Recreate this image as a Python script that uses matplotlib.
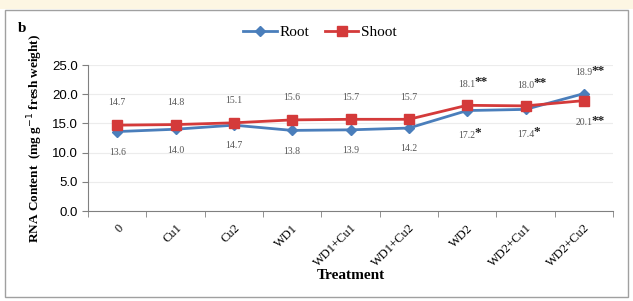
import matplotlib
matplotlib.use("Agg")
import matplotlib.pyplot as plt
import numpy as np
from matplotlib.patches import Rectangle

categories = ["0", "Cu1", "Cu2", "WD1", "WD1+Cu1", "WD1+Cu2", "WD2", "WD2+Cu1", "WD2+Cu2"]
root = [13.6, 14.0, 14.7, 13.8, 13.9, 14.2, 17.2, 17.4, 20.1]
shoot = [14.7, 14.8, 15.1, 15.6, 15.7, 15.7, 18.1, 18.0, 18.9]
root_sig = ["", "", "", "", "", "", "*", "*", "**"]
shoot_sig = ["", "", "", "", "", "", "**", "**", "**"]
yticks = [0, 5, 10, 15, 20, 25]

serif = ["Liberation Serif", "DejaVu Serif"]
plt.rcParams["font.family"] = serif

fig = plt.figure(figsize=(6.33, 3.01), dpi=100)
fig.patch.set_facecolor("white")
# top yellowish band and frame
fig.add_artist(Rectangle((0, 1 - 9 / 301), 1, 9 / 301, transform=fig.transFigure,
                         facecolor="#fdf6e3", edgecolor="none", zorder=0))
fig.add_artist(Rectangle((5 / 633, 4 / 301), 623 / 633, 287 / 301, transform=fig.transFigure,
                         facecolor="none", edgecolor="#a0a0a0", lw=1.0, zorder=1))

ax = fig.add_axes([88 / 633, 1 - 211 / 301, 525 / 633, 146 / 301])
x = np.arange(len(categories))
ax.plot(x, root, color="#4a7ebb", lw=2, marker="D", ms=5.5, label="Root", zorder=3)
ax.plot(x, shoot, color="#d43a3a", lw=2, marker="s", ms=7.5, label="Shoot", zorder=3)

ax.set_xlim(-0.5, len(categories) - 0.5)
ax.set_ylim(0, 25)
ax.set_yticks(yticks)
ax.set_yticklabels([f"{v:.1f}" for v in yticks], fontsize=9.5,
                   family=["Liberation Sans", "DejaVu Sans"])
ax.set_xticks(x)
ax.set_xticklabels(categories, rotation=45, ha="right", rotation_mode="anchor", fontsize=9)
ax.tick_params(axis="x", length=0, pad=8)
ax.set_xticks(np.arange(-0.5, len(categories)), minor=True)
ax.tick_params(axis="x", which="minor", length=4, direction="out", color="#808080")
ax.tick_params(axis="y", length=4, color="#808080")
ax.grid(axis="y", color="#ececec", lw=0.8)
ax.set_axisbelow(True)
for s in ["top", "right"]:
    ax.spines[s].set_visible(False)
for s in ["left", "bottom"]:
    ax.spines[s].set_color("#808080")

ax.set_xlabel("Treatment", fontsize=11, fontweight="bold", labelpad=0)
ax.set_ylabel("RNA Content  (mg g$^{-1}$ fresh weight)", fontsize=9.5, fontweight="bold", labelpad=5)

lab_color = "#555555"
star_color = "#222222"
shoot_off = [16, 16, 16, 16, 16, 16, 15, 15, 20]
root_off = [-15, -15, -15, -15, -15, -15, -18, -18, -21]
for i in range(len(categories)):
    up = shoot_off[i]
    ax.annotate(f"{shoot[i]:.1f}", (x[i], shoot[i]), xytext=(0, up), textcoords="offset points",
                ha="center", va="center", fontsize=7, color=lab_color)
    if shoot_sig[i]:
        ax.annotate(shoot_sig[i], (x[i], shoot[i]), xytext=(5.5, up + 1.5), textcoords="offset points",
                    ha="left", va="center", fontsize=9.5, fontweight="bold", color=star_color)
    dn = root_off[i]
    ax.annotate(f"{root[i]:.1f}", (x[i], root[i]), xytext=(0, dn), textcoords="offset points",
                ha="center", va="center", fontsize=7, color=lab_color)
    if root_sig[i]:
        ax.annotate(root_sig[i], (x[i], root[i]), xytext=(5.5, dn + 1.5), textcoords="offset points",
                    ha="left", va="center", fontsize=9.5, fontweight="bold", color=star_color)

fig.text(22 / 633, 1 - 28 / 301, "b", fontsize=11, fontweight="bold", ha="center", va="center")
fig.legend(loc="center", bbox_to_anchor=(320 / 633, 1 - 32 / 301), ncol=2, frameon=False,
           fontsize=11, handlelength=2.2, columnspacing=1.0, handletextpad=0.2)

fig.savefig("out.png", dpi=100)
